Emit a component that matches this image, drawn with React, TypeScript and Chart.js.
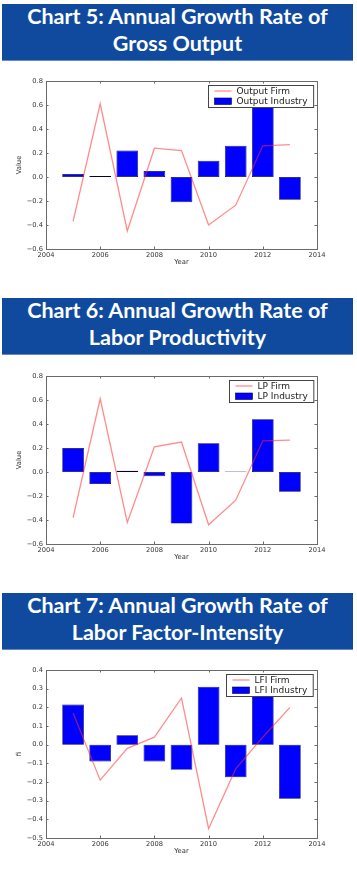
import React, { useEffect, useRef } from 'react';
import { Chart, registerables } from 'chart.js';

Chart.register(...registerables);

// Years on the x axis and the tick labels shown beneath each panel
const years = [2005, 2006, 2007, 2008, 2009, 2010, 2011, 2012, 2013];
const yearTicks = [2004, 2006, 2008, 2010, 2012, 2014];

// Chart 5: gross output growth
const outputFirm = [-0.37, 0.61, -0.45, 0.24, 0.22, -0.4, -0.235, 0.26, 0.27];
const outputIndustry = [0.025, 0.008, 0.22, 0.05, -0.21, 0.135, 0.26, 0.64, -0.19];

// Chart 6: labor productivity growth
const lpFirm = [-0.38, 0.61, -0.42, 0.21, 0.25, -0.44, -0.235, 0.26, 0.265];
const lpIndustry = [0.2, -0.1, 0.01, -0.035, -0.43, 0.24, 0.005, 0.44, -0.165];

// Chart 7: labor factor-intensity growth
const lfiFirm = [0.17, -0.19, -0.02, 0.04, 0.25, -0.45, -0.13, 0.04, 0.2];
const lfiIndustry = [0.215, -0.09, 0.05, -0.09, -0.135, 0.31, -0.175, 0.28, -0.29];

const TICK_FONT = '"DejaVu Sans", sans-serif';

function fmtValue(v: number): string {
  if (Math.abs(v) < 1e-9) return '0.0';
  return v.toFixed(1).replace('-', '\u2212');
}

// Frame with inward ticks on all four sides, axis titles and an inset legend
const decorPlugin = {
  id: 'decor',
  afterDatasetsDraw(chart: any) {
    const { ctx, chartArea: a, scales } = chart;
    ctx.save();
    ctx.strokeStyle = '#6a6a6a';
    ctx.lineWidth = 1;
    ctx.strokeRect(Math.round(a.left) + 0.5, Math.round(a.top) + 0.5, Math.round(a.right - a.left), Math.round(a.bottom - a.top));
    const tl = 2.5;
    ctx.beginPath();
    scales.x.ticks.forEach((t: any) => {
      const px = Math.round(scales.x.getPixelForValue(t.value)) + 0.5;
      ctx.moveTo(px, a.bottom);
      ctx.lineTo(px, a.bottom - tl);
      ctx.moveTo(px, a.top);
      ctx.lineTo(px, a.top + tl);
    });
    scales.y.ticks.forEach((t: any) => {
      const py = Math.round(scales.y.getPixelForValue(t.value)) + 0.5;
      ctx.moveTo(a.left, py);
      ctx.lineTo(a.left + tl, py);
      ctx.moveTo(a.right, py);
      ctx.lineTo(a.right - tl, py);
    });
    ctx.stroke();
    ctx.restore();
  },
  afterDraw(chart: any) {
    const { ctx, chartArea: a } = chart;
    const o = chart.options.plugins.decor;
    ctx.save();
    // axis titles
    ctx.fillStyle = '#333';
    ctx.font = `6.8px ${TICK_FONT}`;
    ctx.textAlign = 'center';
    ctx.textBaseline = 'middle';
    ctx.fillText(o.xTitle, (a.left + a.right) / 2, a.bottom + 13.5);
    ctx.translate(19, (a.top + a.bottom) / 2);
    ctx.rotate(-Math.PI / 2);
    ctx.fillText(o.yTitle, 0, 0);
    ctx.restore();

    // legend: line entry first, then the bar entry
    const ds = chart.data.datasets;
    ctx.save();
    ctx.font = `9px ${TICK_FONT}`;
    const tw = Math.max(...ds.map((d: any) => ctx.measureText(d.label).width));
    const bw = 28 + tw + 6;
    const bh = 22;
    const bx = Math.round(a.right - 4 - bw) + 0.5;
    const by = Math.round(a.top + 4) + 0.5;
    ctx.fillStyle = '#fff';
    ctx.fillRect(bx, by, bw, bh);
    ctx.strokeStyle = '#444';
    ctx.lineWidth = 1;
    ctx.strokeRect(bx, by, bw, bh);
    const r1 = by + 5.5;
    const r2 = by + 15.5;
    ctx.strokeStyle = ds[0].borderColor;
    ctx.lineWidth = ds[0].borderWidth;
    ctx.beginPath();
    ctx.moveTo(bx + 6, r1);
    ctx.lineTo(bx + 23, r1);
    ctx.stroke();
    ctx.fillStyle = ds[1].backgroundColor;
    ctx.fillRect(bx + 6, r2 - 3, 17, 6.5);
    ctx.strokeStyle = ds[1].borderColor;
    ctx.lineWidth = 0.6;
    ctx.strokeRect(bx + 6, r2 - 3, 17, 6.5);
    ctx.fillStyle = '#222';
    ctx.textAlign = 'left';
    ctx.textBaseline = 'middle';
    ctx.fillText(ds[0].label, bx + 28, r1 + 0.5);
    ctx.fillText(ds[1].label, bx + 28, r2 + 0.5);
    ctx.restore();
  },
};

type PanelProps = {
  top: number;
  firm: number[];
  industry: number[];
  firmLabel: string;
  industryLabel: string;
  yMin: number;
  yMax: number;
  yStep: number;
  yTitle: string;
};

function GrowthPanel(p: PanelProps) {
  const ref = useRef<HTMLCanvasElement | null>(null);
  useEffect(() => {
    if (!ref.current) return;
    const chart = new Chart(ref.current, {
      type: 'bar',
      data: {
        datasets: [
          {
            type: 'line',
            label: p.firmLabel,
            data: years.map((x, i) => ({ x, y: p.firm[i] })),
            borderColor: 'rgba(255, 45, 45, 0.55)',
            borderWidth: 1.3,
            pointRadius: 0,
            tension: 0,
            order: 0,
          } as any,
          {
            type: 'bar',
            label: p.industryLabel,
            data: years.map((x, i) => ({ x, y: p.industry[i] })),
            backgroundColor: '#0000ff',
            borderColor: '#000040',
            borderWidth: 0.7,
            borderSkipped: false,
            barPercentage: 0.8,
            categoryPercentage: 1,
            order: 1,
          } as any,
        ],
      },
      options: {
        responsive: false,
        animation: false,
        events: [],
        layout: { padding: { top: 11, right: 40, left: 0, bottom: 0 } },
        plugins: {
          legend: { display: false },
          tooltip: { enabled: false },
          decor: { xTitle: 'Year', yTitle: p.yTitle },
        } as any,
        scales: {
          x: {
            type: 'linear',
            min: 2004,
            max: 2014,
            offset: false,
            grid: { display: false, offset: false, drawTicks: false },
            border: { display: false },
            afterBuildTicks: (s: any) => {
              s.ticks = yearTicks.map((v) => ({ value: v }));
            },
            afterFit: (s: any) => {
              s.height = 21;
            },
            ticks: {
              autoSkip: false,
              maxRotation: 0,
              padding: 2.5,
              color: '#333',
              font: { family: TICK_FONT, size: 6.7 },
              callback: (v: any) => String(v),
            },
          },
          y: {
            min: p.yMin,
            max: p.yMax,
            grid: { display: false, drawTicks: false },
            border: { display: false },
            afterFit: (s: any) => {
              s.width = 46;
            },
            ticks: {
              stepSize: p.yStep,
              autoSkip: false,
              padding: 3,
              color: '#333',
              font: { family: TICK_FONT, size: 6.7 },
              callback: (v: any) => fmtValue(Number(v)),
            },
          },
        },
      },
      plugins: [decorPlugin as any],
    });
    return () => chart.destroy();
  }, []);
  return (
    <div style={{ position: 'absolute', left: 0, top: p.top, width: 357, height: 200 }}>
      <canvas ref={ref} width={357} height={200} style={{ display: 'block' }} />
    </div>
  );
}

function Banner({ top, lines }: { top: number; lines: string[] }) {
  return (
    <div
      style={{
        position: 'absolute',
        left: 2,
        top,
        width: 351,
        height: 57,
        boxSizing: 'border-box',
        background: '#104a9f',
        borderBottom: '1px solid #6688c8',
        color: '#ffffff',
        fontFamily: 'Lato, "Open Sans", sans-serif',
        fontWeight: 700,
        fontSize: 21.5,
        lineHeight: '27px',
        textAlign: 'center',
        whiteSpace: 'nowrap',
      }}
    >
      <div style={{ position: 'relative', top: -1.5 }}>
        {lines.map((l) => (
          <div key={l}>{l}</div>
        ))}
      </div>
    </div>
  );
}

export default function App() {
  return (
    <div style={{ position: 'absolute', left: 0, top: 0, width: 357, height: 870, background: '#fff', overflow: 'hidden' }}>
      <Banner top={4} lines={['Chart 5: Annual Growth Rate of', 'Gross Output']} />
      <GrowthPanel
        top={70}
        firm={outputFirm}
        industry={outputIndustry}
        firmLabel="Output Firm"
        industryLabel="Output Industry"
        yMin={-0.6}
        yMax={0.8}
        yStep={0.2}
        yTitle="Value"
      />
      <Banner top={298} lines={['Chart 6: Annual Growth Rate of', 'Labor Productivity']} />
      <GrowthPanel
        top={365}
        firm={lpFirm}
        industry={lpIndustry}
        firmLabel="LP Firm"
        industryLabel="LP Industry"
        yMin={-0.6}
        yMax={0.8}
        yStep={0.2}
        yTitle="Value"
      />
      <Banner top={593} lines={['Chart 7: Annual Growth Rate of', 'Labor Factor-Intensity']} />
      <GrowthPanel
        top={659}
        firm={lfiFirm}
        industry={lfiIndustry}
        firmLabel="LFI Firm"
        industryLabel="LFI Industry"
        yMin={-0.5}
        yMax={0.4}
        yStep={0.1}
        yTitle="fi"
      />
    </div>
  );
}
